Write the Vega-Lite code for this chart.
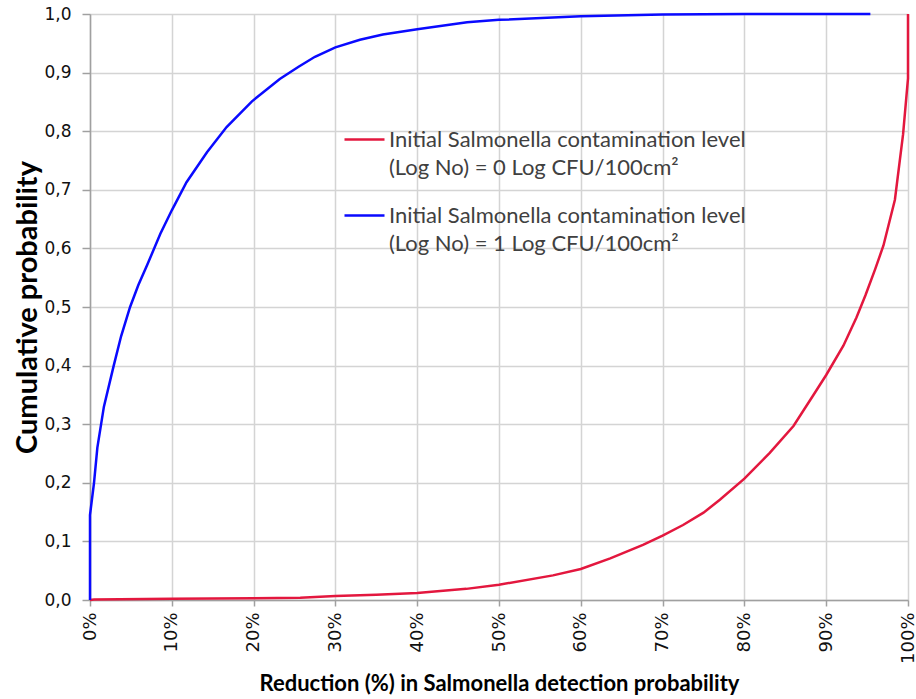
{
  "$schema": "https://vega.github.io/schema/vega-lite/v6.json",
  "width": 818,
  "height": 586,
  "autosize": {"type": "none"},
  "padding": {"left": 90, "top": 14, "right": 8, "bottom": 99},
  "background": "white",
  "config": {
    "view": {"stroke": null},
    "axis": {
      "grid": true,
      "gridColor": "#d4d4d4",
      "gridWidth": 1.5,
      "domainColor": "#a0a0a0",
      "domainWidth": 1.5,
      "tickColor": "#a0a0a0",
      "tickWidth": 1.5,
      "labelFont": "DejaVu Sans",
      "labelFontSize": 17,
      "labelColor": "#111111",
      "titleFont": "Lato",
      "titleFontWeight": "bold",
      "titleColor": "#000000"
    }
  },
  "data": {
    "values": [
      {"level": "0", "i": 1, "reduction": 0.0, "prob": 0.0},
      {"level": "0", "i": 2, "reduction": 0.005, "prob": 0.001},
      {"level": "0", "i": 3, "reduction": 0.1, "prob": 0.002},
      {"level": "0", "i": 4, "reduction": 0.2, "prob": 0.003},
      {"level": "0", "i": 5, "reduction": 0.257, "prob": 0.004},
      {"level": "0", "i": 6, "reduction": 0.3, "prob": 0.007},
      {"level": "0", "i": 7, "reduction": 0.35, "prob": 0.009},
      {"level": "0", "i": 8, "reduction": 0.4, "prob": 0.012},
      {"level": "0", "i": 9, "reduction": 0.46, "prob": 0.019},
      {"level": "0", "i": 10, "reduction": 0.5, "prob": 0.026},
      {"level": "0", "i": 11, "reduction": 0.566, "prob": 0.042},
      {"level": "0", "i": 12, "reduction": 0.6, "prob": 0.053},
      {"level": "0", "i": 13, "reduction": 0.636, "prob": 0.071},
      {"level": "0", "i": 14, "reduction": 0.676, "prob": 0.094},
      {"level": "0", "i": 15, "reduction": 0.7, "prob": 0.11},
      {"level": "0", "i": 16, "reduction": 0.725, "prob": 0.128},
      {"level": "0", "i": 17, "reduction": 0.75, "prob": 0.149},
      {"level": "0", "i": 18, "reduction": 0.77, "prob": 0.171},
      {"level": "0", "i": 19, "reduction": 0.8, "prob": 0.207},
      {"level": "0", "i": 20, "reduction": 0.831, "prob": 0.251},
      {"level": "0", "i": 21, "reduction": 0.86, "prob": 0.297},
      {"level": "0", "i": 22, "reduction": 0.884, "prob": 0.349},
      {"level": "0", "i": 23, "reduction": 0.9, "prob": 0.384},
      {"level": "0", "i": 24, "reduction": 0.921, "prob": 0.434},
      {"level": "0", "i": 25, "reduction": 0.937, "prob": 0.482},
      {"level": "0", "i": 26, "reduction": 0.948, "prob": 0.52},
      {"level": "0", "i": 27, "reduction": 0.96, "prob": 0.565},
      {"level": "0", "i": 28, "reduction": 0.97, "prob": 0.605},
      {"level": "0", "i": 29, "reduction": 0.984, "prob": 0.683},
      {"level": "0", "i": 30, "reduction": 0.994, "prob": 0.795},
      {"level": "0", "i": 31, "reduction": 1.0, "prob": 0.89},
      {"level": "0", "i": 32, "reduction": 1.0, "prob": 1.0},
      {"level": "1", "i": 1, "reduction": 0.0, "prob": 0.0},
      {"level": "1", "i": 2, "reduction": 0.0, "prob": 0.145},
      {"level": "1", "i": 3, "reduction": 0.0049, "prob": 0.2},
      {"level": "1", "i": 4, "reduction": 0.009, "prob": 0.26},
      {"level": "1", "i": 5, "reduction": 0.017, "prob": 0.33},
      {"level": "1", "i": 6, "reduction": 0.029, "prob": 0.4},
      {"level": "1", "i": 7, "reduction": 0.038, "prob": 0.45},
      {"level": "1", "i": 8, "reduction": 0.049, "prob": 0.5},
      {"level": "1", "i": 9, "reduction": 0.059, "prob": 0.537},
      {"level": "1", "i": 10, "reduction": 0.07, "prob": 0.572},
      {"level": "1", "i": 11, "reduction": 0.086, "prob": 0.625},
      {"level": "1", "i": 12, "reduction": 0.1, "prob": 0.665},
      {"level": "1", "i": 13, "reduction": 0.118, "prob": 0.713},
      {"level": "1", "i": 14, "reduction": 0.143, "prob": 0.764},
      {"level": "1", "i": 15, "reduction": 0.167, "prob": 0.807},
      {"level": "1", "i": 16, "reduction": 0.198, "prob": 0.851},
      {"level": "1", "i": 17, "reduction": 0.232, "prob": 0.889},
      {"level": "1", "i": 18, "reduction": 0.255, "prob": 0.91},
      {"level": "1", "i": 19, "reduction": 0.275, "prob": 0.927},
      {"level": "1", "i": 20, "reduction": 0.3, "prob": 0.943},
      {"level": "1", "i": 21, "reduction": 0.33, "prob": 0.956},
      {"level": "1", "i": 22, "reduction": 0.358, "prob": 0.965},
      {"level": "1", "i": 23, "reduction": 0.4, "prob": 0.974},
      {"level": "1", "i": 24, "reduction": 0.461, "prob": 0.986},
      {"level": "1", "i": 25, "reduction": 0.5, "prob": 0.99},
      {"level": "1", "i": 26, "reduction": 0.6, "prob": 0.996},
      {"level": "1", "i": 27, "reduction": 0.7, "prob": 0.999},
      {"level": "1", "i": 28, "reduction": 0.8, "prob": 1.0},
      {"level": "1", "i": 29, "reduction": 0.954, "prob": 1.0}
    ]
  },
  "mark": {"type": "line", "strokeWidth": 2.5, "clip": false},
  "encoding": {
    "x": {
      "field": "reduction",
      "type": "quantitative",
      "scale": {"domain": [0, 1], "nice": false, "zero": false},
      "axis": {
        "values": [0, 0.1, 0.2, 0.3, 0.4, 0.5, 0.6, 0.7, 0.8, 0.9, 1],
        "format": ".0%",
        "labelAngle": -90,
        "labelAlign": "right",
        "labelBaseline": "middle",
        "labelFontSize": 18,
        "tickSize": 6,
        "labelPadding": 6,
        "title": "Reduction (%) in Salmonella detection probability",
        "titleFontSize": 22,
        "titlePadding": 10
      }
    },
    "y": {
      "field": "prob",
      "type": "quantitative",
      "scale": {"domain": [0, 1], "nice": false},
      "axis": {
        "values": [0, 0.1, 0.2, 0.3, 0.4, 0.5, 0.6, 0.7, 0.8, 0.9, 1],
        "labelExpr": "replace(format(datum.value, '.1f'), '.', ',')",
        "tickSize": 8,
        "labelPadding": 11,
        "title": "Cumulative probability",
        "titleFontSize": 29,
        "titlePadding": 1
      }
    },
    "color": {
      "field": "level",
      "type": "nominal",
      "scale": {"domain": ["0", "1"], "range": ["#e3173e", "#0a0aff"]},
      "legend": {
        "orient": "none",
        "legendX": 253,
        "legendY": 104,
        "title": null,
        "symbolType": "stroke",
        "symbolSize": 1600,
        "symbolStrokeWidth": 2.5,
        "labelFont": "Lato",
        "labelFontSize": 22,
        "labelColor": "#404040",
        "labelLimit": 700,
        "labelOffset": 3,
        "rowPadding": 15,
        "labelExpr": "datum.label == '0' ? ['Initial Salmonella contamination level', '(Log No) = 0 Log CFU/100cm²'] : ['Initial Salmonella contamination level', '(Log No) = 1 Log CFU/100cm²']",
        "encode": {"labels": {"update": {"lineHeight": {"value": 28}}}}
      }
    },
    "order": {"field": "i", "type": "quantitative"}
  }
}
